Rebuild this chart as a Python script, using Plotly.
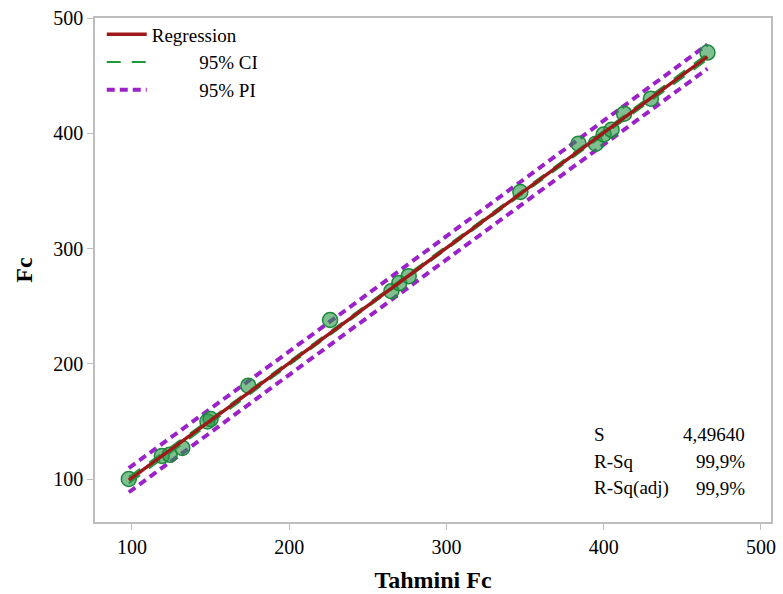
import plotly.graph_objects as go

# Observed data: predicted (Tahmini Fc) vs actual (Fc)
tahmini_fc = [98, 119, 124, 132, 148, 150, 174, 226, 265, 270, 276, 347, 384, 395, 400, 405, 413, 430, 466]
fc = [100, 120, 121, 127, 150, 152, 181, 238, 263, 270, 276, 349, 391, 391, 399, 403, 417, 430, 470]

# Fitted line and bands
line_x = [98, 150, 200, 250, 300, 350, 400, 466]
reg_y = [99, 150.5, 200.5, 250.5, 300.5, 350.5, 400.5, 466.5]
ci_upper = [101.8, 152.3, 202, 251.8, 301.7, 351.9, 402.1, 469]
ci_lower = [96.2, 148.7, 199, 249.2, 299.3, 349.1, 398.9, 464]
pi_upper = [109.5, 160.8, 210.7, 260.6, 310.6, 360.6, 410.8, 477]
pi_lower = [88.5, 140.2, 190.3, 240.4, 290.4, 340.4, 390.2, 456]

x_ticks = [100, 200, 300, 400, 500]
y_ticks = [100, 200, 300, 400, 500]

stat_labels = ["S", "R-Sq", "R-Sq(adj)"]
stat_values = ["4,49640", "99,9%", "99,9%"]

FONT = "Liberation Serif, Times New Roman, serif"
PAD = "\u00a0" * 10

fig = go.Figure()

fig.add_trace(go.Scatter(x=line_x, y=pi_upper, mode="lines", name=PAD + "95% PI",
                         line=dict(color="#9A22C8", width=4, dash="8px,5px"),
                         legendrank=3))
fig.add_trace(go.Scatter(x=line_x, y=pi_lower, mode="lines", showlegend=False,
                         line=dict(color="#9A22C8", width=4, dash="8px,5px")))
fig.add_trace(go.Scatter(x=line_x, y=ci_upper, mode="lines", name=PAD + "95% CI",
                         line=dict(color="#1E9A3A", width=2, dash="14px,11px"),
                         legendrank=2))
fig.add_trace(go.Scatter(x=line_x, y=ci_lower, mode="lines", showlegend=False,
                         line=dict(color="#1E9A3A", width=2, dash="14px,11px")))
fig.add_trace(go.Scatter(x=tahmini_fc, y=fc, mode="markers", showlegend=False,
                         marker=dict(symbol="circle", size=15,
                                     color="rgba(40,150,70,0.6)",
                                     line=dict(color="#1A8A3A", width=1.5))))
fig.add_trace(go.Scatter(x=line_x, y=reg_y, mode="lines", name="Regression",
                         line=dict(color="#9E1A1A", width=3.5),
                         legendrank=1))

stat_y = [0.173, 0.121, 0.067]
for lab, val, yy in zip(stat_labels, stat_values, stat_y):
    fig.add_annotation(x=0.735, y=yy, xref="paper", yref="paper", text=lab,
                       showarrow=False, xanchor="left", yanchor="middle",
                       font=dict(family=FONT, size=19, color="black"))
    fig.add_annotation(x=0.965, y=yy, xref="paper", yref="paper", text=val,
                       showarrow=False, xanchor="right", yanchor="middle",
                       font=dict(family=FONT, size=19, color="black"))

axis_common = dict(showline=True, linecolor="#BDBDBD", linewidth=1.5, mirror=True,
                   ticks="outside", ticklen=6, tickcolor="#BDBDBD",
                   showgrid=False, zeroline=False, automargin=False,
                   tickfont=dict(family=FONT, size=20, color="black"))

fig.update_layout(
    width=783, height=594,
    margin=dict(l=95, r=12, t=18, b=72),
    paper_bgcolor="white", plot_bgcolor="white",
    font=dict(family=FONT, color="black"),
    xaxis=dict(range=[76.5, 506.4], tickvals=x_ticks,
               title=dict(text="<b>Tahmini Fc</b>", font=dict(family=FONT, size=24), standoff=14),
               **axis_common),
    yaxis=dict(range=[62.7, 500], tickvals=y_ticks,
               title=dict(text="<b>Fc</b>", font=dict(family=FONT, size=24), standoff=14),
               **axis_common),
    legend=dict(x=0.01, y=1.005, xanchor="left", yanchor="top",
                bgcolor="rgba(0,0,0,0)", font=dict(family=FONT, size=19),
                tracegroupgap=0, itemwidth=40),
)

fig.write_html("out.html")
